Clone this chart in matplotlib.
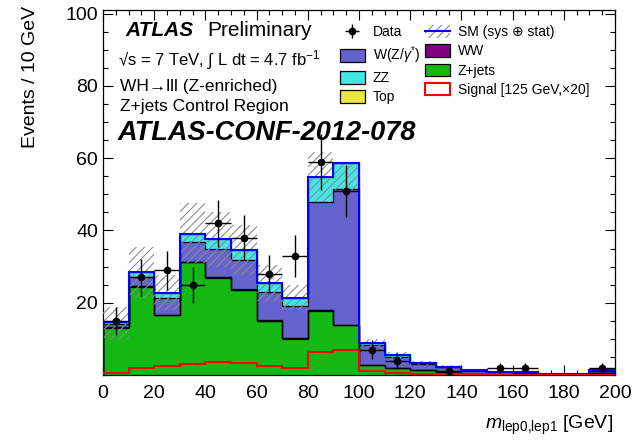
import numpy as np
import matplotlib
matplotlib.use("Agg")
import matplotlib.pyplot as plt
from matplotlib.patches import Patch
from matplotlib.lines import Line2D

plt.rcParams["font.family"] = ["Liberation Sans", "DejaVu Sans"]
plt.rcParams["mathtext.fontset"] = "custom"
plt.rcParams["mathtext.rm"] = "Liberation Sans"
plt.rcParams["mathtext.it"] = "Liberation Sans:italic"
plt.rcParams["mathtext.bf"] = "Liberation Sans:bold"
plt.rcParams["hatch.color"] = "#8c8c8c"
plt.rcParams["hatch.linewidth"] = 0.8

# m(lep0,lep1) binning, 10 GeV bins
edges = np.arange(0, 201, 10)
centers = edges[:-1] + 5

# background expectations per bin (stack order: bottom -> top)
zjets = [13.1, 24.4, 16.5, 31.2, 26.9, 23.5, 14.9, 10.1, 17.8, 13.8,
         2.8, 1.8, 1.3, 0.9, 0.3, 0.1, 0.05, 0.0, 0.0, 0.6]
top = [0.1, 0.1, 0.1, 0.1, 0.1, 0.1, 0.1, 0.1, 0.1, 0.1,
       0.0, 0.0, 0.0, 0.0, 0.0, 0.0, 0.0, 0.0, 0.0, 0.0]
ww = [0.0, 0.0, 0.0, 0.1, 0.1, 0.1, 0.1, 0.1, 0.0, 0.0,
      0.0, 0.0, 0.0, 0.0, 0.0, 0.0, 0.0, 0.0, 0.0, 0.0]
wz = [0.8, 2.5, 4.6, 5.3, 7.9, 8.1, 8.0, 8.8, 30.1, 37.5,
      5.4, 3.3, 1.8, 1.2, 0.9, 0.7, 0.55, 0.35, 0.25, 0.6]
zz = [0.7, 1.4, 1.6, 2.3, 2.6, 2.8, 2.3, 2.3, 6.7, 7.3,
      0.6, 0.4, 0.3, 0.2, 0.2, 0.1, 0.1, 0.05, 0.05, 0.3]

# systematic + statistical band around the SM total
sm_up = [4.2, 7.1, 4.8, 8.5, 7.6, 6.9, 5.0, 3.5, 7.1, 0.3,
         1.1, 1.0, 0.5, 0.5, 0.3, 0.2, 0.2, 0.2, 0.2, 0.3]
sm_down = [5.0, 7.1, 4.8, 8.0, 7.6, 6.9, 5.0, 3.5, 6.8, 7.5,
           1.1, 1.0, 0.5, 0.5, 0.3, 0.2, 0.2, 0.2, 0.2, 0.3]

# signal, mH = 125 GeV scaled by 20
signal = [0.6, 1.8, 2.5, 3.0, 3.6, 3.2, 2.5, 2.0, 6.5, 6.9,
          1.1, 0.6, 0.4, 0.3, 0.1, 0.05, 0.05, 0.0, 0.0, 0.1]

# observed events
data = [15, 27, 29, 25, 42, 38, 28, 33, 59, 51,
        7, 4, 0, 1, 0, 2, 2, 0, 0, 2]

layers = [
    (zjets, "#14b814", "Z+jets"),
    (top, "#e8e83c", "Top"),
    (ww, "#800080", "WW"),
    (wz, "#6464cc", "W(Z/$\\gamma^{*}$)"),
    (zz, "#42e6e6", "ZZ"),
]

fig = plt.figure(figsize=(6.43, 4.41), dpi=100)
ax = fig.add_axes([103 / 643, 1 - 375 / 441, 512 / 643, 365 / 441])

base = np.zeros(len(centers))
for vals, col, lab in layers:
    vals = np.array(vals)
    ax.stairs(base + vals, edges, baseline=base, fill=True, color=col, lw=0, zorder=2)
    base = base + vals
    ax.stairs(base, edges, color="black", lw=0.9, zorder=3)

total = base
up = total + np.array(sm_up)
down = total - np.array(sm_down)
ax.stairs(up, edges, baseline=down, fill=True, facecolor="none",
          edgecolor="#8c8c8c", hatch="////", lw=0, zorder=4)
ax.stairs(total, edges, color="#0000ff", lw=1.5, zorder=5)
ax.stairs(signal, edges, color="#ff0000", lw=1.5, zorder=6)

data = np.array(data, dtype=float)
m = data > 0
eb = ax.errorbar(centers[m], data[m], xerr=5, yerr=np.sqrt(data[m]), fmt="o",
                 color="black", ms=4.5, elinewidth=1, capsize=0, zorder=7)

ax.set_xlim(0, 200)
ax.set_ylim(0, 101)
ax.set_xticks(np.arange(0, 201, 20))
ax.set_xticks(np.arange(0, 201, 5), minor=True)
ax.set_yticks([20, 40, 60, 80, 100])
ax.set_yticks(np.arange(0, 101, 5), minor=True)
ax.tick_params(which="both", direction="in", top=True, right=True, labelsize=14)
ax.tick_params(which="major", length=7.5, width=0.8)
ax.tick_params(which="minor", length=3.8, width=0.8)
ax.tick_params(axis="x", pad=7)
for s in ax.spines.values():
    s.set_linewidth(0.9)

fig.text(613 / 643, 1 - 425 / 441, "$m_{\\mathrm{lep0{,}lep1}}$ [GeV]",
         ha="right", va="center", fontsize=14)
fig.text(31 / 643, 1 - 6 / 441, "Events / 10 GeV", rotation=90,
         ha="center", va="top", fontsize=14)

# labels inside the frame
fig.text(125 / 643, 1 - 30 / 441, "ATLAS", fontsize=15, fontweight="bold",
         fontstyle="italic", va="center")
fig.text(207 / 643, 1 - 30 / 441, "Preliminary", fontsize=15, va="center")
fig.text(118 / 643, 1 - 60 / 441,
         "\u221as = 7 TeV, \u222b L dt = 4.7 fb$^{-1}$", fontsize=12, va="center")
fig.text(120 / 643, 1 - 87 / 441, "WH\u2192lll (Z-enriched)", fontsize=12.5, va="center")
fig.text(120 / 643, 1 - 106 / 441, "Z+jets Control Region", fontsize=12.5, va="center")
fig.text(118 / 643, 1 - 133 / 441, "ATLAS-CONF-2012-078", fontsize=19.5,
         fontweight="bold", fontstyle="italic", va="center")

def box(col):
    return Patch(facecolor=col, edgecolor="black", lw=0.9)

sm_handle = (Patch(facecolor="none", edgecolor="#8c8c8c", hatch="////", lw=0),
             Line2D([], [], color="#0000ff", lw=1.5))
handles = [eb, box("#6464cc"), box("#42e6e6"), box("#e8e83c"),
           sm_handle, box("#800080"), box("#14b814"),
           Patch(facecolor="white", edgecolor="#ff0000", lw=1.5)]
labels = ["Data", "W(Z/$\\gamma^{*}$)", "ZZ", "Top",
          "SM (sys \u2295 stat)", "WW", "Z+jets", "Signal [125 GeV,\u00d720]"]
ax.legend(handles, labels, ncol=2, loc="upper left", bbox_to_anchor=(0.462, 0.958),
          frameon=False, fontsize=10, handlelength=1.8, handleheight=1.0,
          handletextpad=0.6, labelspacing=0.37, columnspacing=0.3,
          borderpad=0, borderaxespad=0)

fig.savefig("out.png", dpi=100)
